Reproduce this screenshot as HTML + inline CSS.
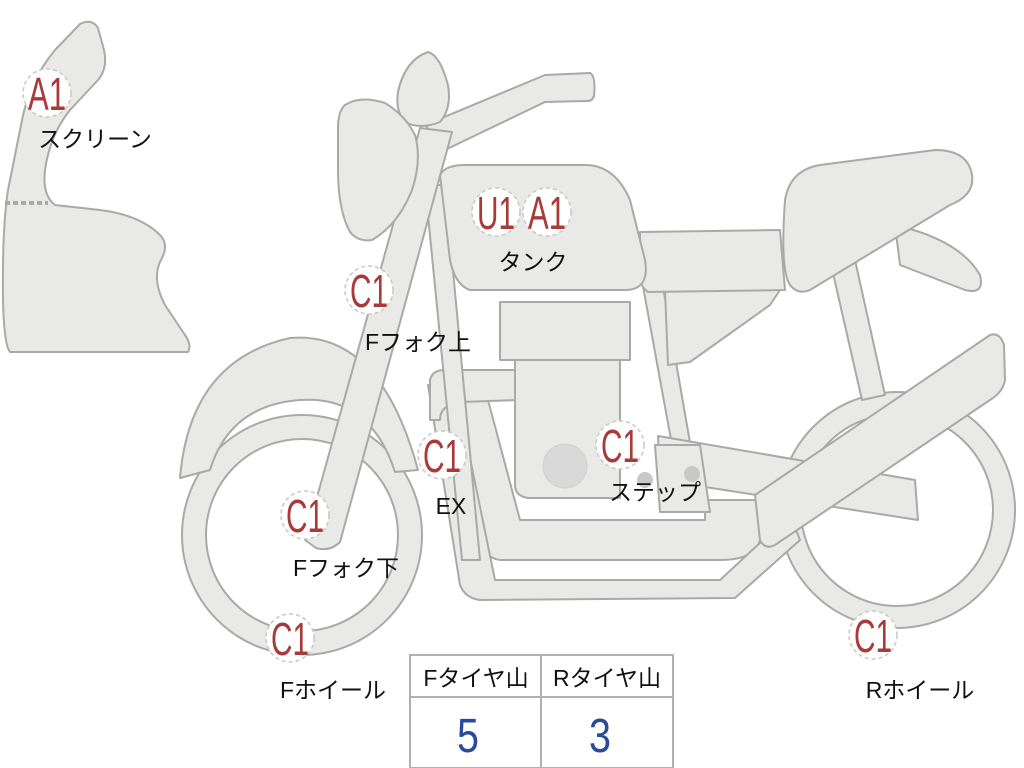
<!DOCTYPE html>
<html><head><meta charset="utf-8"><style>
html,body{margin:0;padding:0;background:#fff;}
svg{display:block}
.p{fill:#e9e9e7;stroke:#a9a9a9;stroke-width:2;stroke-linejoin:round}
.b{fill:#fff;stroke:#c8c8c8;stroke-width:1.5;stroke-dasharray:4 3}
.bt{font-family:"Liberation Sans",sans-serif;font-size:46px;fill:#a83a3a;text-anchor:middle}
.lb{font-family:"Liberation Sans","Noto Sans CJK JP",sans-serif;font-size:23px;fill:#111;text-anchor:middle}
</style></head><body>
<svg width="1024" height="768" viewBox="0 0 1024 768">
<path class="p" d="M10,352 L188,352 Q192,345 185,335 L165,305 Q152,280 160,262 Q170,245 160,235 Q140,215 100,210 L55,205 Q42,195 45,170 Q50,135 70,110 L98,80 Q108,68 104,50 L98,28 Q92,18 80,24 L55,50 Q30,80 22,120 L8,190 Q2,230 3,300 Q4,345 10,352Z"/>
<line x1="5" y1="203" x2="48" y2="203" stroke="#a9a9a9" stroke-width="4" stroke-dasharray="5 3"/>
<circle cx="897" cy="510" r="107" fill="none" stroke="#a9a9a9" stroke-width="24"/>
<circle cx="897" cy="510" r="107" fill="none" stroke="#e9e9e7" stroke-width="20"/>
<circle cx="302" cy="535" r="108" fill="none" stroke="#a9a9a9" stroke-width="26"/>
<circle cx="302" cy="535" r="108" fill="none" stroke="#e9e9e7" stroke-width="22"/>
<path class="p" d="M180,478 Q190,360 290,338 Q380,330 418,470 L395,472 Q370,395 300,400 Q230,405 210,470Z"/>
<path class="p" d="M460,400 L488,400 L520,520 L705,520 L705,500 L760,500 L760,540 Q755,560 720,560 L500,560 Q485,558 480,540Z"/>
<path class="p" d="M428,385 L455,385 L495,580 L720,580 L790,515 L800,540 L735,598 L480,600 Q465,598 460,585 Z"/>
<path class="p" d="M430,380 Q432,370 445,370 L520,370 L520,400 L460,402 Q440,405 440,420 L430,420Z"/>
<path class="p" d="M425,185 L445,185 L480,560 L462,560Z"/>
<path class="p" d="M640,270 L660,270 L700,500 L682,500Z"/>
<rect class="p" x="500" y="302" width="130" height="58"/>
<path class="p" d="M515,360 L620,360 L620,498 L528,498 Q515,496 515,485Z"/>
<circle cx="565" cy="466" r="22" fill="#d9d9d9" stroke="#d0d0d0"/>
<path class="p" d="M658,436 L915,480 L918,520 L660,480Z"/>
<path class="p" d="M655,445 L700,445 L710,512 L660,512Z"/>
<circle cx="645" cy="480" r="8" fill="#c8c8c8"/><circle cx="692" cy="474" r="8" fill="#c8c8c8"/>
<path class="p" d="M755,495 L990,335 Q1000,332 1004,345 L1005,380 Q1003,392 990,400 L775,545 Q765,550 760,540Z"/>
<path class="p" d="M665,290 L780,290 L770,305 L690,362 L668,365Z"/>
<path class="p" d="M640,232 L780,230 L785,290 L648,292 Q638,285 640,270Z"/>
<path class="p" d="M830,260 L855,260 L885,395 L862,400Z"/>
<path class="p" d="M895,225 Q960,240 980,275 Q985,295 965,290 L900,265Z"/>
<path class="p" d="M790,285 Q780,270 785,200 Q790,170 820,165 L935,150 Q968,150 972,175 Q975,195 950,205 L810,290 Q798,295 790,285Z"/>
<path class="p" d="M440,175 Q445,165 465,165 L585,165 Q615,165 630,200 L645,260 Q650,290 625,290 L470,290 Q455,285 450,260Z"/>
<path class="p" d="M425,125 L545,75 L590,73 Q596,76 594,96 Q592,102 585,101 L545,102 L445,150Z"/>
<path class="p" d="M420,128 L452,132 L340,542 Q330,552 316,548 L305,540Z"/>
<path class="p" d="M398,92 Q405,60 428,52 Q440,55 448,85 Q452,108 440,122 Q420,130 405,122 Q395,110 398,92Z"/>
<path class="p" d="M345,105 Q360,95 385,103 Q405,115 415,135 Q422,160 412,190 Q398,225 372,240 Q358,242 350,232 Q338,210 338,170 L338,125 Q339,110 345,105Z"/>
<g>
<circle class="b" cx="47" cy="93" r="24"/><text class="bt" x="47" y="110" textLength="38" lengthAdjust="spacingAndGlyphs">A1</text>
<circle class="b" cx="496" cy="212" r="24"/><text class="bt" x="496" y="229" textLength="38" lengthAdjust="spacingAndGlyphs">U1</text>
<circle class="b" cx="547" cy="212" r="24"/><text class="bt" x="547" y="229" textLength="38" lengthAdjust="spacingAndGlyphs">A1</text>
<circle class="b" cx="369" cy="290" r="24"/><text class="bt" x="369" y="307" textLength="38" lengthAdjust="spacingAndGlyphs">C1</text>
<circle class="b" cx="442" cy="455" r="24"/><text class="bt" x="442" y="472" textLength="38" lengthAdjust="spacingAndGlyphs">C1</text>
<circle class="b" cx="620" cy="445" r="24"/><text class="bt" x="620" y="462" textLength="38" lengthAdjust="spacingAndGlyphs">C1</text>
<circle class="b" cx="305" cy="515" r="24"/><text class="bt" x="305" y="532" textLength="38" lengthAdjust="spacingAndGlyphs">C1</text>
<circle class="b" cx="290" cy="638" r="24"/><text class="bt" x="290" y="655" textLength="38" lengthAdjust="spacingAndGlyphs">C1</text>
<circle class="b" cx="873" cy="635" r="24"/><text class="bt" x="873" y="652" textLength="38" lengthAdjust="spacingAndGlyphs">C1</text>
</g>
<text class="lb" x="95" y="147">スクリーン</text>
<text class="lb" x="533" y="270">タンク</text>
<text class="lb" x="418" y="350">Fフォク上</text>
<text class="lb" x="451" y="514">EX</text>
<text class="lb" x="655" y="500">ステップ</text>
<text class="lb" x="346" y="576">Fフォク下</text>
<text class="lb" x="333" y="698">Fホイール</text>
<text class="lb" x="920" y="698">Rホイール</text>
<rect x="410" y="655" width="263" height="113" fill="#fff" stroke="#b0b0b0" stroke-width="2"/>
<line x1="410" y1="697" x2="673" y2="697" stroke="#b0b0b0" stroke-width="2"/>
<line x1="541" y1="655" x2="541" y2="768" stroke="#b0b0b0" stroke-width="2"/>
<text class="lb" x="476" y="686">Fタイヤ山</text>
<text class="lb" x="607" y="686">Rタイヤ山</text>
<text x="468" y="752" font-family="Liberation Sans,sans-serif" font-size="48" fill="#2a4a9a" text-anchor="middle" textLength="22" lengthAdjust="spacingAndGlyphs">5</text>
<text x="600" y="752" font-family="Liberation Sans,sans-serif" font-size="48" fill="#2a4a9a" text-anchor="middle" textLength="22" lengthAdjust="spacingAndGlyphs">3</text>
</svg>
</body></html>
